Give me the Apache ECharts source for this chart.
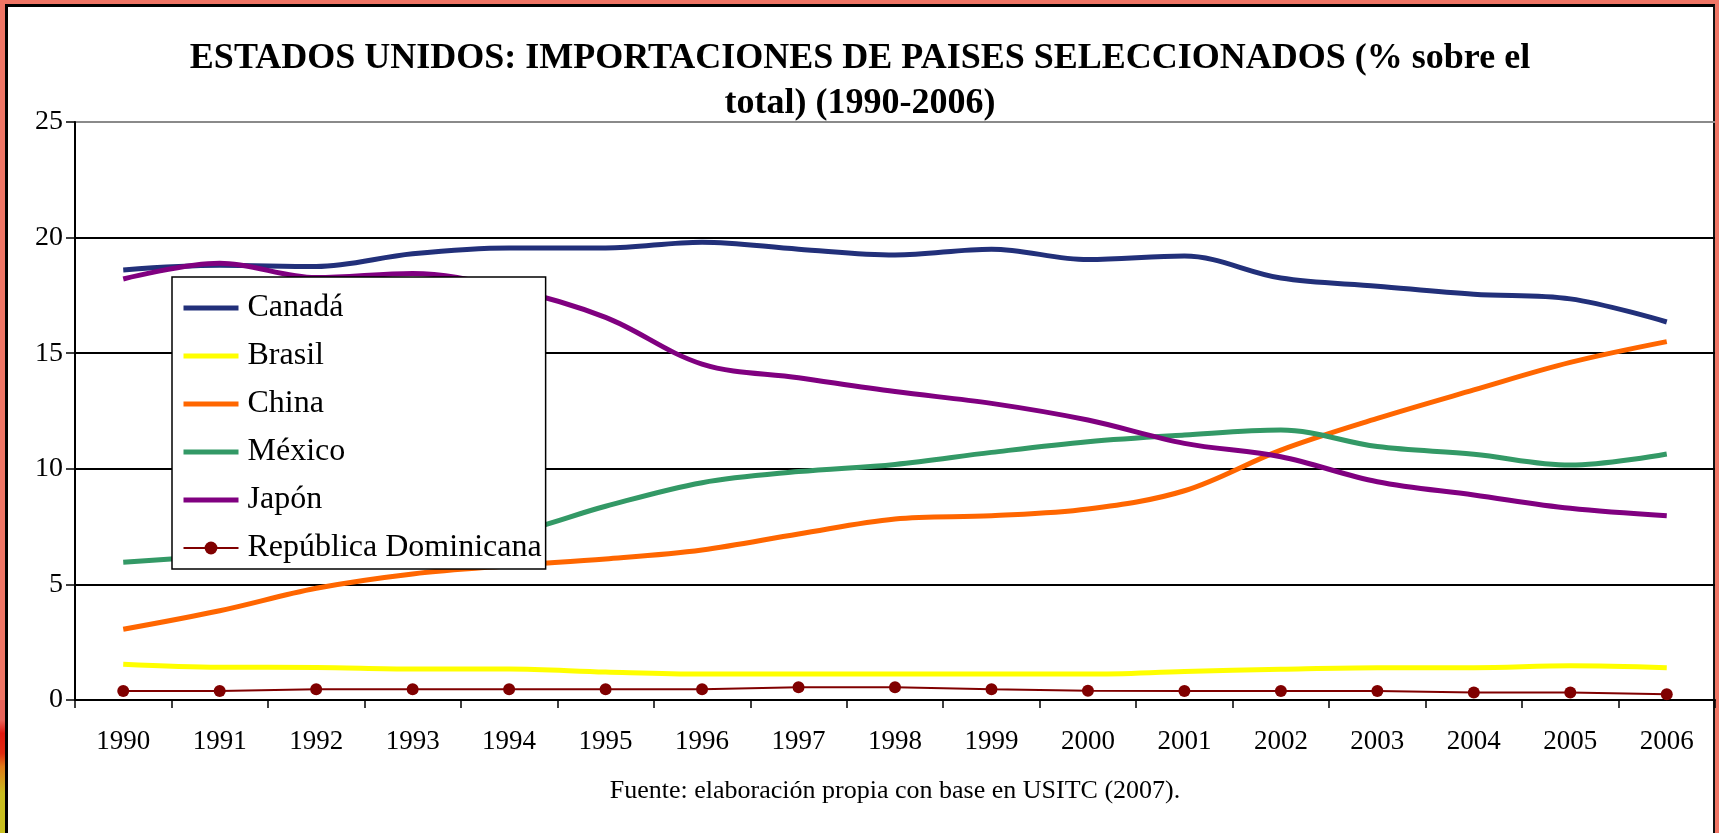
<!DOCTYPE html>
<html>
<head>
<meta charset="utf-8">
<title>Estados Unidos: importaciones</title>
<script src="https://cdn.jsdelivr.net/npm/echarts@6/dist/echarts.min.js"></script>
<style>
html, body { margin: 0; padding: 0; }
body {
    width: 1719px;
    height: 833px;
    overflow: hidden;
    background: #ef7565;
    position: relative;
}
.frame {
    position: absolute;
    left: 5px;
    top: 4px;
    width: 1705px;
    height: 840px;
    background: #fff;
    border-left: 3px solid #000;
    border-top: 3px solid #000;
    border-right: 2px solid #111;
}
.corner {
    position: absolute;
    left: 0;
    top: 700px;
    width: 5px;
    height: 133px;
    background: linear-gradient(#e8645a 0%, #e8645a 15%, #e01810 25%, #e02a10 40%, #e07a18 50%, #c8bc20 70%, #c8c020 100%);
}
#main {
    position: absolute;
    left: 0;
    top: 0;
    width: 1719px;
    height: 833px;
}
</style>
</head>
<body>
<div class="frame"></div>
<div class="corner"></div>
<div id="main"></div>
<script>
// años (eje x)
var years = ['1990', '1991', '1992', '1993', '1994', '1995', '1996', '1997', '1998',
             '1999', '2000', '2001', '2002', '2003', '2004', '2005', '2006'];

// % sobre el total de importaciones de EEUU
var canada   = [18.6, 18.8, 18.75, 19.3, 19.55, 19.55, 19.8, 19.5, 19.25, 19.5, 19.05, 19.2, 18.25, 17.9, 17.55, 17.35, 16.35];
var brasil   = [1.55, 1.42, 1.41, 1.34, 1.34, 1.21, 1.12, 1.12, 1.12, 1.12, 1.12, 1.23, 1.33, 1.4, 1.4, 1.48, 1.4];
var china    = [3.06, 3.86, 4.83, 5.45, 5.81, 6.1, 6.49, 7.18, 7.83, 7.97, 8.26, 9.05, 10.81, 12.18, 13.41, 14.6, 15.5];
var mexico   = [5.96, 6.25, 6.6, 6.9, 7.2, 8.38, 9.4, 9.88, 10.19, 10.71, 11.17, 11.46, 11.68, 10.96, 10.63, 10.16, 10.64];
var japon    = [18.21, 18.89, 18.27, 18.45, 17.8, 16.55, 14.53, 13.94, 13.34, 12.83, 12.11, 11.1, 10.52, 9.44, 8.87, 8.29, 7.97];
var repDom   = [0.39, 0.39, 0.46, 0.46, 0.46, 0.47, 0.47, 0.55, 0.55, 0.47, 0.4, 0.39, 0.39, 0.39, 0.32, 0.32, 0.25];

var yTicks = [0, 5, 10, 15, 20, 25];

var serif = '"Liberation Serif", "Times New Roman", serif';

var chart = echarts.init(document.getElementById('main'));

function thickLine(name, data, color) {
    return {
        name: name,
        type: 'line',
        data: data,
        smooth: 0.35,
        symbol: 'none',
        lineStyle: { width: 5, color: color },
        itemStyle: { color: color }
    };
}

// la leyenda de las series gruesas sin marcador
function legendItem(name) {
    return { name: name, itemStyle: { opacity: 0 } };
}

chart.setOption({
    backgroundColor: 'transparent',
    animation: false,
    graphic: [{
        type: 'text',
        x: 860,
        y: 81,
        style: {
            text: 'ESTADOS UNIDOS: IMPORTACIONES DE PAISES SELECCIONADOS (% sobre el\ntotal) (1990-2006)',
            font: 'bold 36px ' + serif,
            lineHeight: 45,
            fill: '#000',
            align: 'center',
            verticalAlign: 'middle'
        }
    }, {
        type: 'text',
        x: 895,
        y: 791,
        style: {
            text: 'Fuente: elaboración propia con base en USITC (2007).',
            font: '26px ' + serif,
            fill: '#000',
            align: 'center',
            verticalAlign: 'middle'
        }
    }],
    legend: {
        orient: 'vertical',
        left: 172,
        top: 277,
        padding: [14, 4, 4, 9],
        itemGap: 14,
        itemWidth: 55,
        itemHeight: 16,
        backgroundColor: '#fff',
        borderColor: '#000',
        borderWidth: 1.5,
        lineStyle: { width: 'inherit' },
        textStyle: {
            fontFamily: serif,
            fontSize: 32,
            lineHeight: 34,
            color: '#000',
            padding: [0, 0, 0, 4]
        },
        data: [legendItem('Canadá'), legendItem('Brasil'), legendItem('China'),
               legendItem('México'), legendItem('Japón'), 'República Dominicana']
    },
    grid: {
        left: 75,
        right: 4,
        top: 122,
        bottom: 133,
        containLabel: false
    },
    xAxis: {
        type: 'category',
        data: years,
        boundaryGap: true,
        axisLine: { lineStyle: { color: '#000', width: 2 } },
        axisTick: { show: true, length: 8, lineStyle: { color: '#000', width: 1.5 } },
        axisLabel: {
            margin: 28,
            fontFamily: serif,
            fontSize: 27,
            color: '#000'
        },
        splitLine: { show: false }
    },
    yAxis: {
        type: 'value',
        min: 0,
        max: 25,
        interval: 5,
        axisLine: { show: true, lineStyle: { color: '#000', width: 2 } },
        axisTick: { show: true, length: 9, lineStyle: { color: '#000', width: 1.5 } },
        axisLabel: {
            margin: 12,
            fontFamily: serif,
            fontSize: 28,
            color: '#000',
            formatter: function (v) { return yTicks.indexOf(v) >= 0 ? String(v) : ''; }
        },
        splitLine: {
            show: true,
            lineStyle: { color: ['#000', '#000', '#000', '#000', '#000', '#8a8a8a'], width: 2 }
        }
    },
    series: [
        thickLine('Canadá', canada, '#22307a'),
        thickLine('Brasil', brasil, '#ffff00'),
        thickLine('China', china, '#ff6600'),
        thickLine('México', mexico, '#339966'),
        thickLine('Japón', japon, '#800080'),
        {
            name: 'República Dominicana',
            type: 'line',
            data: repDom,
            symbol: 'circle',
            symbolSize: 12,
            showAllSymbol: true,
            lineStyle: { width: 2, color: '#800000' },
            itemStyle: { color: '#800000' }
        }
    ]
});
</script>
</body>
</html>
